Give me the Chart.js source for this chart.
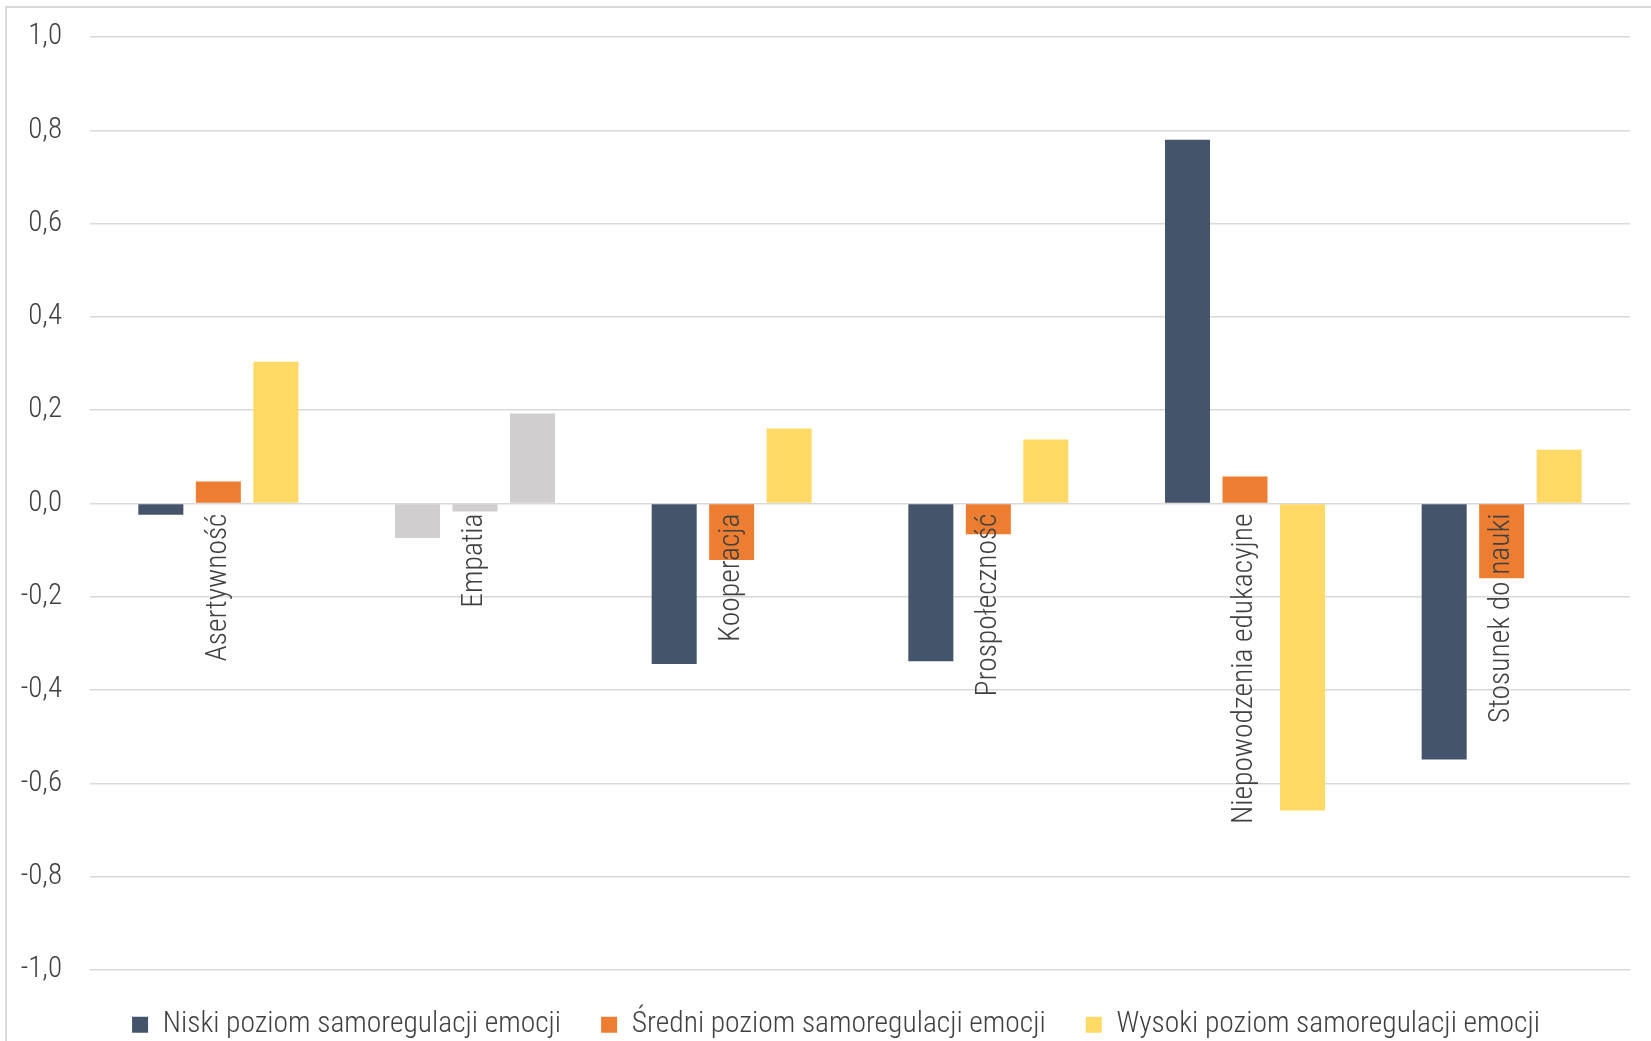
<!DOCTYPE html>
<html lang="pl">
<head>
<meta charset="UTF-8">
<title>Samoregulacja emocji</title>
<script src="https://cdn.jsdelivr.net/npm/chart.js@4"></script>
<style>
  html, body { margin: 0; padding: 0; background: #fff; overflow: hidden; }
  .wrap { position: relative; width: 1651px; height: 1041px; }
  .frame { position: absolute; left: 5px; top: 6px; right: -10px; bottom: -10px;
           border-left: 2px solid #d9d9d9; border-top: 2px solid #d9d9d9; }
  canvas { position: absolute; left: 0; top: 0; }
</style>
</head>
<body>
<div class="wrap">
  <div class="frame"></div>
  <canvas id="chart" width="1651" height="1041"></canvas>
</div>
<script>
  const categories = ['Asertywność', 'Empatia', 'Kooperacja', 'Prospołeczność', 'Niepowodzenia edukacyjne', 'Stosunek do nauki'];
  const seriesNames = ['Niski poziom samoregulacji emocji', 'Średni poziom samoregulacji emocji', 'Wysoki poziom samoregulacji emocji'];
  const niski = [-0.024, -0.074, -0.344, -0.338, 0.780, -0.549];
  const sredni = [0.047, -0.017, -0.121, -0.066, 0.058, -0.160];
  const wysoki = [0.304, 0.193, 0.161, 0.137, -0.658, 0.115];
  const colors = ['#44546a', '#ed7d31', '#ffd966'];
  const grayCategory = 1; // Empatia is drawn in gray
  const gray = '#d0cece';

  const FONT = "'Roboto Condensed', Roboto, sans-serif";
  const textColor = '#404040';

  const fmt = v => (Math.abs(v) < 1e-9 ? 0 : v).toFixed(1).replace('.', ',');

  const datasets = [niski, sredni, wysoki].map((vals, i) => ({
    label: seriesNames[i],
    data: vals,
    backgroundColor: ctx => (ctx.type === 'data' && ctx.dataIndex === grayCategory) ? gray : colors[i],
    borderWidth: 0,
    categoryPercentage: 0.672,
    barPercentage: 0.783,
  }));

  // legend sits a little right of the canvas centre in the original
  const shiftLegend = {
    id: 'shiftLegend',
    afterLayout(chart) {
      chart.legend.left += 21;
      chart.legend.right += 21;
    },
  };

  new Chart(document.getElementById('chart'), {
    type: 'bar',
    data: { labels: categories, datasets },
    plugins: [shiftLegend],
    options: {
      responsive: false,
      animation: false,
      layout: { padding: { left: 0, right: 21, top: 37, bottom: 0 } },
      scales: {
        x: {
          position: { y: 0 },
          grid: { display: false, drawTicks: false },
          border: { display: false },
          ticks: {
            z: 1, autoSkip: false, minRotation: 90, maxRotation: 90, padding: 10,
            color: textColor, font: { family: FONT, size: 29.5, weight: 300 },
          },
        },
        y: {
          min: -1, max: 1,
          afterFit: scale => { scale.width = 90; },
          grid: { color: '#d9d9d9', lineWidth: 1.5, drawTicks: false },
          border: { display: false },
          ticks: {
            stepSize: 0.2, padding: 28, callback: v => fmt(v),
            color: textColor, font: { family: FONT, size: 29, weight: 300, lineHeight: 0.5 },
          },
        },
      },
      plugins: {
        legend: {
          position: 'bottom',
          maxHeight: 71,
          labels: {
            boxWidth: 16, boxHeight: 16, padding: 40,
            color: textColor, font: { family: FONT, size: 29.5, weight: 300 },
          },
        },
        tooltip: { enabled: false },
      },
    },
  });
</script>
</body>
</html>
